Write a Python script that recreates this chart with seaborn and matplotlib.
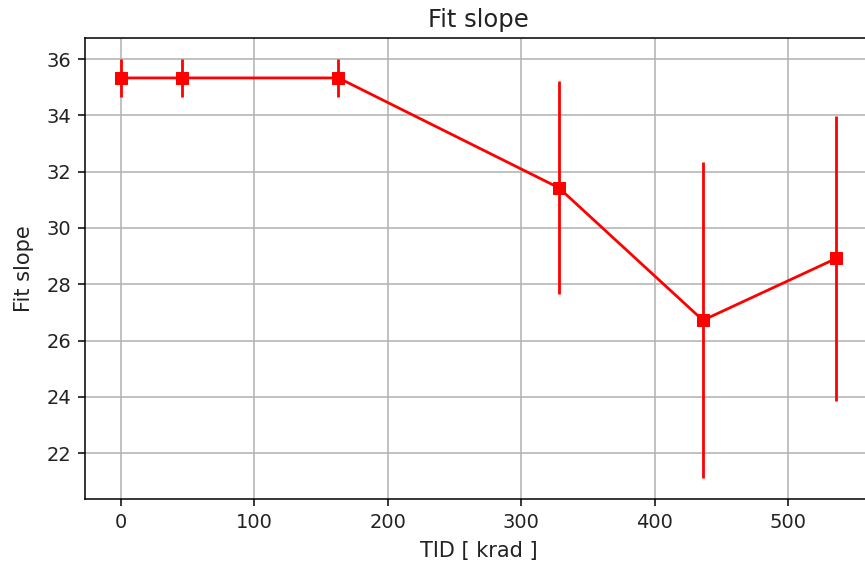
import matplotlib
matplotlib.use("Agg")
import matplotlib.pyplot as plt
import seaborn as sns
import pandas as pd

tid = [0, 46, 163, 328, 436, 536]
slope = [35.33, 35.33, 35.33, 31.43, 26.72, 28.92]
slope_err = [0.67, 0.67, 0.67, 3.79, 5.62, 5.06]

sns.set_style("ticks")
plt.rcParams['font.family'] = ['DejaVu Sans']

df = pd.DataFrame({"TID": tid, "slope": slope, "err": slope_err})

fig = plt.figure(figsize=(8.65, 5.65), dpi=100)
ax = fig.add_axes([0.0983, 0.1168, 0.91, 0.816])
ax.errorbar(df["TID"], df["slope"], yerr=df["err"], fmt="none", ecolor="red", elinewidth=2.0, zorder=2)
sns.lineplot(data=df, x="TID", y="slope", color="red", marker="s", markersize=8.5,
             markeredgecolor="red", linewidth=2.0, ax=ax, zorder=3)
ax.grid(True, color="#b0b0b0", linewidth=1.1)
ax.set_axisbelow(True)
for s in ax.spines.values():
    s.set_color("black")
    s.set_linewidth(1.1)
ax.tick_params(axis="both", labelsize=14, direction="out", length=5, width=1.1,
               color="black", pad=5, labelcolor="#222222")
ax.set_xlabel("TID [ krad ]", fontsize=15, labelpad=6.5, color="#222222")
ax.set_ylabel("Fit slope", fontsize=15, labelpad=9, color="#222222")
ax.set_title("Fit slope", fontsize=17.5, pad=8, color="#222222")
ax.set_xticks([0, 100, 200, 300, 400, 500])
ax.set_yticks([22, 24, 26, 28, 30, 32, 34, 36])
ax.set_xlim(-26.8, 562.8)
ax.set_ylim(20.37, 36.75)
fig.savefig("out.png", dpi=100)
